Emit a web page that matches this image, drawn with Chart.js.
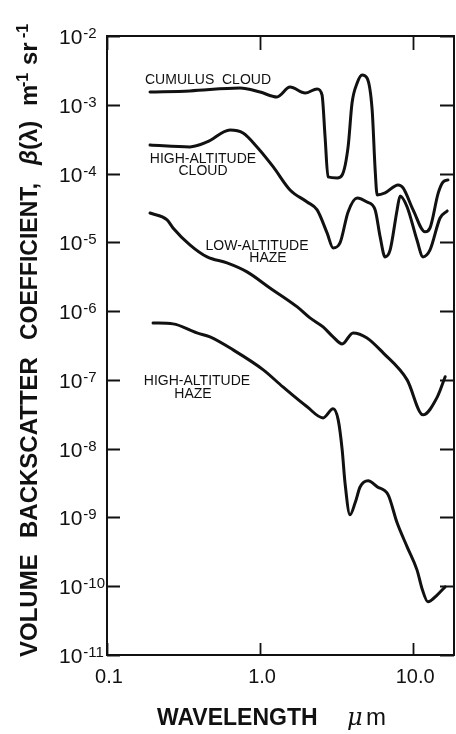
<!DOCTYPE html>
<html>
<head>
<meta charset="utf-8">
<script src="https://cdn.jsdelivr.net/npm/chart.js@4.4.1/dist/chart.umd.min.js"></script>
<style>
  html, body { margin: 0; padding: 0; background: #fff; }
  canvas { display: block; }
</style>
</head>
<body>
<canvas id="c" width="456" height="734"></canvas>
<script>
// Wavelength (µm) and volume backscatter coefficient (m^-1 sr^-1) for each atmosphere type
const cumulusWavelength = [0.191, 0.348, 0.74, 1.0, 1.29, 1.57, 1.97, 2.36, 2.54, 2.66, 2.78, 3.19, 3.44, 3.76, 3.99, 4.31, 4.64, 5.00, 5.40, 5.65, 5.82, 6.56, 7.98, 8.60, 10.0, 11.97, 12.9, 14.6, 15.7, 16.9];
const cumulusBeta = [1.53e-3, 1.59e-3, 1.75e-3, 1.53e-3, 1.30e-3, 1.81e-3, 1.48e-3, 1.70e-3, 1.39e-3, 3.40e-4, 8.93e-5, 8.63e-5, 9.54e-5, 2.44e-4, 1.06e-3, 2.07e-3, 2.71e-3, 2.45e-3, 8.40e-4, 1.13e-4, 4.89e-5, 5.23e-5, 6.83e-5, 6.18e-5, 2.96e-5, 1.42e-5, 1.62e-5, 5.23e-5, 7.55e-5, 8.07e-5];

const highCloudWavelength = [0.191, 0.348, 0.451, 0.637, 0.774, 0.955, 1.22, 1.57, 2.03, 2.36, 2.74, 3.00, 3.33, 3.76, 4.31, 5.00, 5.65, 6.09, 6.56, 7.08, 7.86, 8.22, 9.14, 10.6, 11.6, 12.9, 15.0, 16.7];
const highCloudBeta = [2.60e-4, 2.44e-4, 2.88e-4, 4.30e-4, 3.89e-4, 2.44e-4, 1.25e-4, 5.78e-5, 3.86e-5, 2.96e-5, 1.37e-5, 8.3e-6, 9.8e-6, 2.77e-5, 4.42e-5, 3.86e-5, 2.96e-5, 1.20e-5, 6.14e-6, 7.76e-6, 2.96e-5, 4.72e-5, 3.27e-5, 1.08e-5, 6.14e-6, 7.76e-6, 2.26e-5, 2.86e-5];

const lowHazeWavelength = [0.191, 0.247, 0.270, 0.348, 0.451, 0.608, 0.822, 1.16, 1.75, 2.12, 2.58, 3.00, 3.44, 4.05, 5.00, 6.37, 9.14, 11.6, 14.4, 16.2];
const lowHazeBeta = [2.67e-5, 2.12e-5, 1.62e-5, 9.2e-6, 6.14e-6, 5.02e-6, 3.72e-6, 2.17e-6, 1.15e-6, 7.96e-7, 5.89e-7, 4.22e-7, 3.33e-7, 4.82e-7, 4.08e-7, 2.47e-7, 1.0e-7, 3.10e-8, 5.66e-8, 1.11e-7];

const highHazeWavelength = [0.200, 0.270, 0.387, 0.471, 0.667, 1.05, 1.41, 2.03, 2.58, 3.00, 3.24, 3.44, 3.59, 3.87, 4.18, 4.51, 5.08, 5.82, 6.87, 7.86, 9.14, 10.6, 11.5, 12.5, 14.4, 16.2];
const highHazeBeta = [6.73e-7, 6.52e-7, 4.82e-7, 4.22e-7, 2.73e-7, 1.40e-7, 7.9e-8, 4.06e-8, 2.80e-8, 3.79e-8, 2.62e-8, 9.6e-9, 3.19e-9, 1.09e-9, 1.63e-9, 2.79e-9, 3.41e-9, 2.79e-9, 2.13e-9, 8.35e-10, 3.74e-10, 1.73e-10, 8.87e-11, 5.93e-11, 7.50e-11, 9.8e-11];

// Axis ticks
const xTickValues = [0.1, 1, 10];
const xTickLabels = ["0.1", "1.0", "10.0"];
const yTickExponents = [-2, -3, -4, -5, -6, -7, -8, -9, -10, -11];

function toPoints(xs, ys) {
  return xs.map((x, i) => ({ x: x, y: ys[i] }));
}

const INK = '#111';

const series = [
  { label: 'CUMULUS CLOUD', xs: cumulusWavelength, ys: cumulusBeta },
  { label: 'HIGH-ALTITUDE CLOUD', xs: highCloudWavelength, ys: highCloudBeta },
  { label: 'LOW-ALTITUDE HAZE', xs: lowHazeWavelength, ys: lowHazeBeta },
  { label: 'HIGH-ALTITUDE HAZE', xs: highHazeWavelength, ys: highHazeBeta }
];

// Frame, inward tick marks, tick labels, axis titles and curve captions
const decorations = {
  id: 'decorations',
  afterDatasetsDraw(chart) {
    const ctx = chart.ctx;
    const a = chart.chartArea;
    const xs = chart.scales.x;
    const ys = chart.scales.y;
    ctx.save();
    ctx.strokeStyle = INK;
    ctx.fillStyle = INK;

    // frame
    ctx.lineWidth = 2;
    ctx.strokeRect(a.left, a.top, a.right - a.left, a.bottom - a.top);

    // y ticks on both sides
    ctx.lineWidth = 1.8;
    yTickExponents.forEach(e => {
      const py = Math.round(ys.getPixelForValue(Math.pow(10, e))) + 0.5;
      ctx.beginPath();
      ctx.moveTo(a.left, py); ctx.lineTo(a.left + 13, py);
      ctx.moveTo(a.right - 14, py); ctx.lineTo(a.right, py);
      ctx.stroke();
    });
    // x ticks top and bottom
    xTickValues.forEach(v => {
      const px = Math.round(xs.getPixelForValue(v)) + 0.5;
      ctx.beginPath();
      ctx.moveTo(px, a.bottom); ctx.lineTo(px, a.bottom - 12);
      ctx.moveTo(px, a.top); ctx.lineTo(px, a.top + 14);
      ctx.stroke();
    });

    // y tick labels: 10 with superscript exponent
    ctx.textAlign = 'left';
    ctx.textBaseline = 'alphabetic';
    yTickExponents.forEach(e => {
      const py = ys.getPixelForValue(Math.pow(10, e));
      ctx.font = '21px "Liberation Sans", Arial, sans-serif';
      ctx.fillText('10', 59, py + 8);
      const w = ctx.measureText('10').width;
      ctx.font = '15px "Liberation Sans", Arial, sans-serif';
      ctx.fillText('-' + String(-e), 59 + w + 1, py + 2);
    });

    // x tick labels
    ctx.textAlign = 'center';
    ctx.font = '20px "Liberation Sans", Arial, sans-serif';
    xTickValues.forEach((v, i) => {
      const px = xs.getPixelForValue(v);
      ctx.fillText(xTickLabels[i], px + 2, 683);
    });

    // x axis title
    ctx.textAlign = 'left';
    ctx.font = 'bold 23px "Liberation Sans", Arial, sans-serif';
    ctx.fillText('WAVELENGTH', 157, 725);
    ctx.font = 'italic 24px "DejaVu Serif", serif';
    ctx.fillText('\u03bc', 347, 725);
    ctx.font = '24px "Liberation Sans", Arial, sans-serif';
    ctx.fillText('m', 366, 725);

    // y axis title (rotated, reads bottom to top)
    ctx.save();
    ctx.translate(37, 0);
    ctx.rotate(-Math.PI / 2);
    ctx.textAlign = 'left';
    const big = 'bold 24px "Liberation Sans", Arial, sans-serif';
    const sup = 'bold 16px "Liberation Sans", Arial, sans-serif';
    ctx.font = big;
    ctx.fillText('VOLUME', -657, 0);
    ctx.fillText('BACKSCATTER', -538, 0);
    ctx.font = 'bold 23px "Liberation Sans", Arial, sans-serif';
    ctx.fillText('COEFFICIENT,', -340, 0);
    ctx.font = 'bold italic 24px "Liberation Sans", Arial, sans-serif';
    ctx.fillText('\u03b2', -165, 0);
    ctx.font = big;
    ctx.fillText('(\u03bb)', -150, 0);
    ctx.fillText('m', -106, 0);
    ctx.font = sup;
    ctx.fillText('-1', -87, -9);
    ctx.font = big;
    ctx.fillText('sr', -65, 0);
    ctx.font = sup;
    ctx.fillText('-1', -38, -9);
    ctx.restore();

    // curve captions
    ctx.font = '14px "Liberation Sans", Arial, sans-serif';
    ctx.textAlign = 'center';
    ctx.fillText('CUMULUS  CLOUD', 208, 84);
    ctx.fillText('HIGH-ALTITUDE', 203, 163);
    ctx.fillText('CLOUD', 203, 175);
    ctx.fillText('LOW-ALTITUDE', 257, 250);
    ctx.fillText('HAZE', 268, 262);
    ctx.fillText('HIGH-ALTITUDE', 197, 385);
    ctx.fillText('HAZE', 193, 398);

    ctx.restore();
  }
};

new Chart(document.getElementById('c'), {
  type: 'line',
  data: {
    datasets: series.map(s => ({
      label: s.label,
      data: toPoints(s.xs, s.ys),
      borderColor: INK,
      borderWidth: 3,
      pointRadius: 0,
      fill: false,
      cubicInterpolationMode: 'monotone',
      borderCapStyle: 'round',
      borderJoinStyle: 'round'
    }))
  },
  options: {
    responsive: false,
    devicePixelRatio: 1,
    animation: false,
    parsing: true,
    layout: { padding: { left: 107, top: 36, right: 2, bottom: 79 } },
    plugins: {
      legend: { display: false },
      tooltip: { enabled: false },
      title: { display: false }
    },
    scales: {
      x: { type: 'logarithmic', min: 0.1, max: 18.5, display: false },
      y: { type: 'logarithmic', min: 1e-11, max: 1e-2, display: false }
    }
  },
  plugins: [decorations]
});
</script>
</body>
</html>
